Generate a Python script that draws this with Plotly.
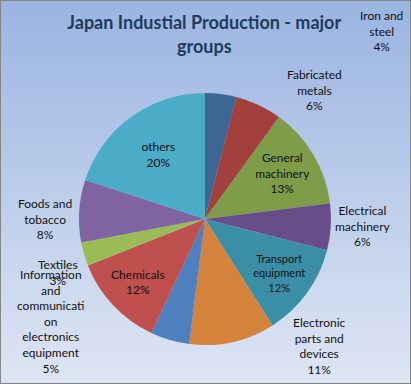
import plotly.graph_objects as go

categories = ["Iron and steel", "Fabricated metals", "General machinery",
              "Electrical machinery", "Transport equipment",
              "Electronic parts and devices",
              "Information and communication electronics equipment",
              "Chemicals", "Textiles", "Foods and tobacco", "others"]
values = [4, 6, 13, 6, 12, 11, 5, 12, 3, 8, 20]
label_text = ["Iron and<br>steel", "Fabricated<br>metals", "General<br>machinery",
              "Electrical<br>machinery", "Transport<br>equipment",
              "Electronic<br>parts and<br>devices",
              "Information<br>and<br>communicati<br>on<br>electronics<br>equipment",
              "Chemicals", "Textiles", "Foods and<br>tobacco", "others"]

# ---- styling ----
colors = ["#3d6695", "#a2403d", "#7f9c48", "#674e88", "#3a8fa6", "#d5823c",
          "#4e7fbe", "#c0504d", "#9bbb59", "#8064a2", "#4aacc6"]
inside = [False, False, True, False, True, False, False, True, False, False, True]
# manual (Excel-style) label anchors for outside labels, in pixels
label_pos = {0: (381, 31), 1: (314, 90), 3: (363, 226), 5: (319, 346),
             6: (50, 321), 8: (58, 272), 9: (45, 219)}

W, H = 411, 384
FONT = dict(family="Lato", size=12, color="#111111")

total = sum(values)
fig = go.Figure()
fig.add_trace(go.Pie(
    labels=categories, values=values, text=label_text,
    texttemplate="%{text}<br>%{percent:.0%}",
    textposition=["inside" if f else "none" for f in inside],
    sort=False, direction="clockwise", rotation=0,
    marker=dict(colors=colors, line=dict(width=0)),
    insidetextfont=FONT,
    insidetextorientation="horizontal",
    automargin=False,
    domain=dict(x=[79 / W, 331 / W], y=[(H - 345) / H, (H - 93) / H]),
    showlegend=False,
))

annotations = []
for i, (px, py) in label_pos.items():
    pct = round(100 * values[i] / total)
    annotations.append(dict(
        text="%s<br>%d%%" % (label_text[i], pct),
        xref="paper", yref="paper", x=px / W, y=1 - py / H,
        xanchor="center", yanchor="middle", align="center",
        showarrow=False, font=FONT))

# vertical gradient background
shapes = []
top = (0x9b, 0xb5, 0xe1)
bot = (0xdd, 0xe5, 0xf3)
n = 48
for i in range(n):
    t = i / (n - 1)
    c = tuple(round(top[k] + (bot[k] - top[k]) * t) for k in range(3))
    shapes.append(dict(type="rect", xref="paper", yref="paper",
                       x0=0, x1=1, y0=1 - (i + 1) / n, y1=1 - i / n + 0.002,
                       fillcolor="rgb(%d,%d,%d)" % c, line=dict(width=0),
                       layer="below"))
shapes.append(dict(type="rect", xref="paper", yref="paper", x0=0, x1=1, y0=0, y1=1,
                   line=dict(color="#868686", width=2), fillcolor="rgba(0,0,0,0)",
                   layer="above"))

fig.update_layout(
    width=W, height=H,
    margin=dict(l=0, r=0, t=0, b=0, autoexpand=False),
    paper_bgcolor="#c0cfe9",
    shapes=shapes,
    annotations=annotations,
    title=dict(text="<b>Japan Industial Production - major<br>groups</b>",
               x=0.497, xanchor="center", y=0.924, yanchor="top",
               automargin=False,
               font=dict(family="Lato", size=18, color="#1f3b5c")),
)

fig.write_html("out.html",
               config={"displayModeBar": False},
               post_script="document.body.style.margin='0';"
                           "document.body.style.overflow='hidden';")
